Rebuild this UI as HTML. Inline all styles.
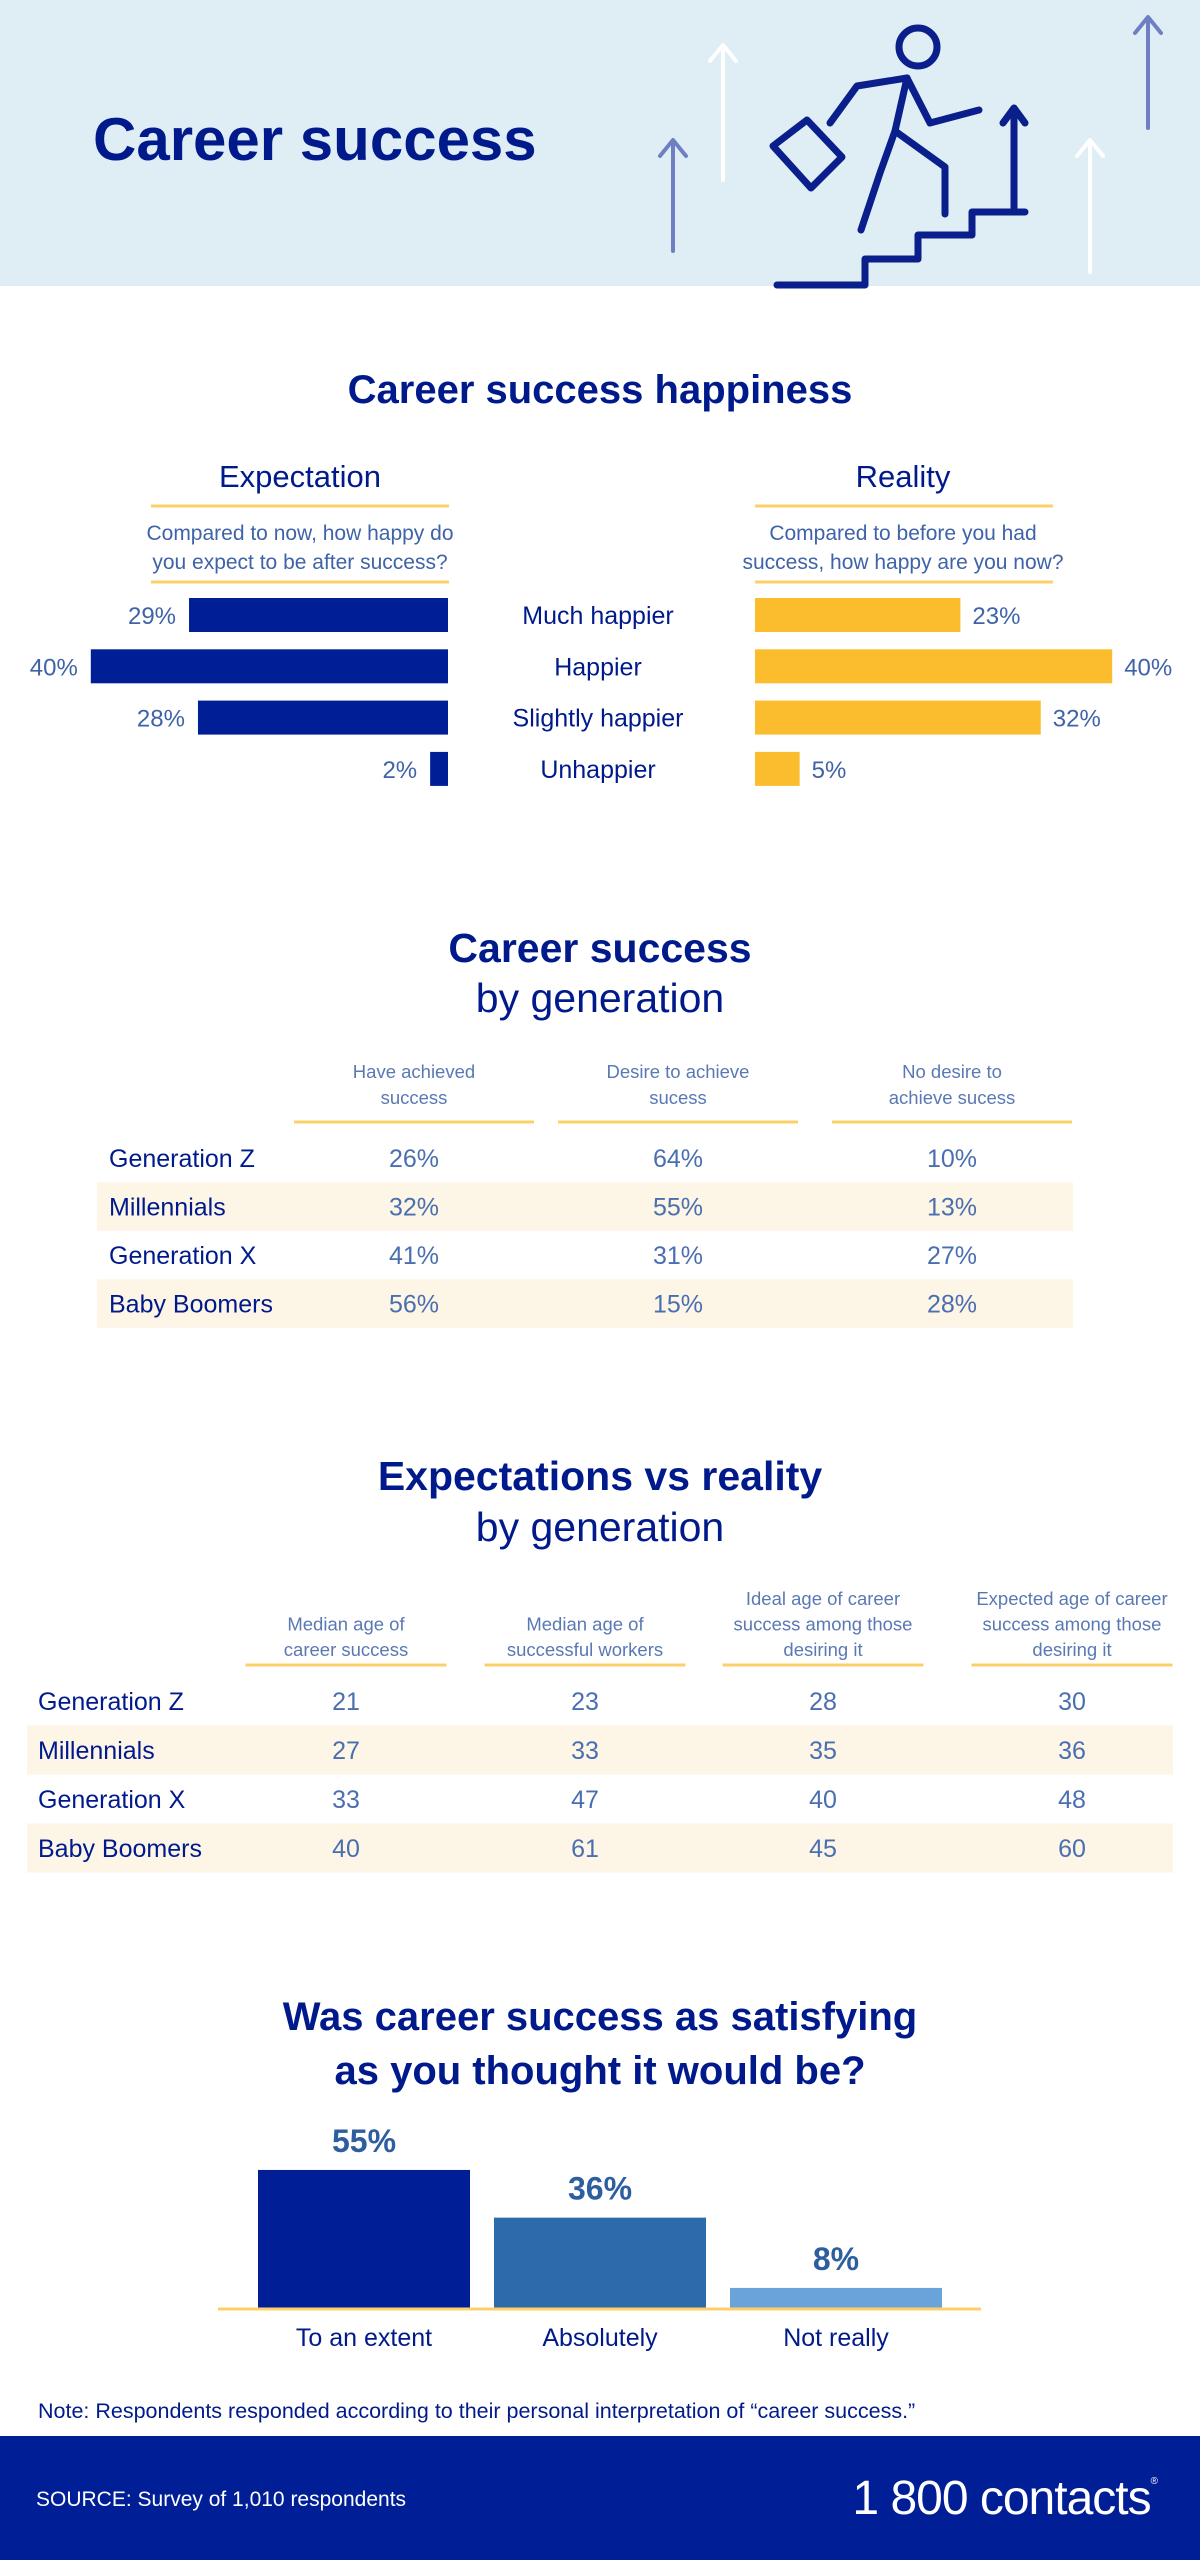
<!DOCTYPE html>
<html>
<head>
<meta charset="utf-8">
<style>
html,body{margin:0;padding:0;background:#fff;}
body{width:1200px;height:2560px;overflow:hidden;font-family:"Liberation Sans",sans-serif;}
svg text{font-family:"Liberation Sans",sans-serif;}
</style>
</head>
<body>
<svg id="page" width="1200" height="2560" viewBox="0 0 1200 2560" xmlns="http://www.w3.org/2000/svg">
  <!-- header -->
  <rect x="0" y="0" width="1200" height="286" fill="#dfeef5"/>
  <text x="93" y="160" font-size="60" font-weight="bold" fill="#001a8c">Career success</text>
  <g fill="none" stroke-linecap="round" stroke-linejoin="round">
    <line x1="673" y1="251" x2="673" y2="141" stroke="#6f7fc4" stroke-width="4"/>
    <polyline points="660,156 673,140 686,156" stroke="#6f7fc4" stroke-width="4"/>
    <line x1="1148" y1="128" x2="1148" y2="18" stroke="#6f7fc4" stroke-width="4"/>
    <polyline points="1135,33 1148,17 1161,33" stroke="#6f7fc4" stroke-width="4"/>
    <line x1="723" y1="180" x2="723" y2="46" stroke="#ffffff" stroke-width="4"/>
    <polyline points="710,61 723,45 736,61" stroke="#ffffff" stroke-width="4"/>
    <line x1="1090" y1="272" x2="1090" y2="141" stroke="#ffffff" stroke-width="4"/>
    <polyline points="1077,156 1090,140 1103,156" stroke="#ffffff" stroke-width="4"/>
    <g stroke="#0a1e8c" stroke-width="7">
      <polyline points="777,285 865,285 865,259 918,259 918,235 972,235 972,212 1025,212"/>
      <line x1="1014" y1="208" x2="1014" y2="110"/>
      <polyline points="1003,123 1014,108 1025,123"/>
      <circle cx="918" cy="47" r="19"/>
      <polyline points="907,78 857,86 830,123"/>
      <polyline points="907,78 930,123 979,110"/>
      <line x1="907" y1="78" x2="895" y2="131"/>
      <polyline points="895,131 945,167 945,214"/>
      <polyline points="895,131 880,173 861,230"/>
      <polygon points="773,146 807,120 842,157 811,188"/>
    </g>
  </g>

  <!-- section 1 -->
  <text x="600" y="403" text-anchor="middle" font-size="40" font-weight="bold" fill="#001a8c">Career success happiness</text>
  <text x="300" y="487" text-anchor="middle" font-size="31" fill="#001a8c">Expectation</text>
  <text x="903" y="487" text-anchor="middle" font-size="31" fill="#001a8c">Reality</text>
  <g stroke="#fcd069" stroke-width="3">
    <line x1="151" y1="506" x2="449" y2="506"/><line x1="151" y1="582" x2="449" y2="582"/>
    <line x1="755" y1="506" x2="1053" y2="506"/><line x1="755" y1="582" x2="1053" y2="582"/>
  </g>
  <text text-anchor="middle" font-size="21" fill="#3f63a8">
    <tspan x="300" y="540">Compared to now, how happy do</tspan><tspan x="300" y="569">you expect to be after success?</tspan></text>
  <text text-anchor="middle" font-size="21" fill="#3f63a8">
    <tspan x="903" y="540">Compared to before you had</tspan><tspan x="903" y="569">success, how happy are you now?</tspan></text>
  <g id="butterfly"></g>

  <!-- section 2 -->
  <text x="600" y="962" text-anchor="middle" font-size="41" font-weight="bold" fill="#001a8c">Career success</text>
  <text x="600" y="1012" text-anchor="middle" font-size="41" fill="#001a8c">by generation</text>
  <g id="table1"></g>

  <!-- section 3 -->
  <text x="600" y="1490" text-anchor="middle" font-size="41" font-weight="bold" fill="#001a8c">Expectations vs reality</text>
  <text x="600" y="1541" text-anchor="middle" font-size="41" fill="#001a8c">by generation</text>
  <g id="table2"></g>

  <!-- section 4 -->
  <text x="600" y="2030" text-anchor="middle" font-size="40" font-weight="bold" fill="#001a8c">Was career success as satisfying</text>
  <text x="600" y="2084" text-anchor="middle" font-size="40" font-weight="bold" fill="#001a8c">as you thought it would be?</text>
  <g id="colchart"></g>
  <text x="38" y="2418" font-size="21.5" fill="#001a8c">Note: Respondents responded according to their personal interpretation of “career success.”</text>

  <!-- footer -->
  <rect x="0" y="2436" width="1200" height="124" fill="#001e96"/>
  <text x="36" y="2506" font-size="21" fill="#ffffff">SOURCE: Survey of 1,010 respondents</text>
  <text x="1157" y="2514" text-anchor="end" font-size="48" fill="#ffffff" letter-spacing="-1">1 800 contacts<tspan font-size="10" dy="-30">®</tspan></text>
</svg>
<script>
const NS='http://www.w3.org/2000/svg';
// ---- data ----
const happyCats=['Much happier','Happier','Slightly happier','Unhappier'];
const expectVals=[29,40,28,2];
const realityVals=[23,40,32,5];
const t1Cols=[['Have achieved','success'],['Desire to achieve','sucess'],['No desire to','achieve sucess']];
const t1Rows=['Generation Z','Millennials','Generation X','Baby Boomers'];
const t1Have=[26,32,41,56];
const t1Desire=[64,55,31,15];
const t1NoDesire=[10,13,27,28];
const t2Cols=[['Median age of','career success'],['Median age of','successful workers'],['Ideal age of career','success among those','desiring it'],['Expected age of career','success among those','desiring it']];
const t2Rows=['Generation Z','Millennials','Generation X','Baby Boomers'];
const t2Median=[21,27,33,40];
const t2Workers=[23,33,47,61];
const t2Ideal=[28,35,40,45];
const t2Expected=[30,36,48,60];
const satCats=['To an extent','Absolutely','Not really'];
const satVals=[55,36,8];

function mk(tag,attrs,parent,txt){const e=document.createElementNS(NS,tag);for(const k in attrs)e.setAttribute(k,attrs[k]);if(txt!==undefined)e.textContent=txt;parent.appendChild(e);return e;}

// ---- butterfly chart ----
const bf=document.getElementById('butterfly');
const hx=v=>v*8.93;
const hy=i=>598+i*51.3;
happyCats.forEach((c,i)=>{
  const y=hy(i);
  const lw=hx(expectVals[i]);
  const b1=mk('rect',{x:448-lw,y:y,width:lw,height:34,fill:'#001e96'},bf);
  
  
  const l1=mk('text',{x:448-lw-13,y:y+26,'text-anchor':'end','font-size':24,fill:'#3f63a8'},bf,expectVals[i]+'%');
  
  
  const rw=hx(realityVals[i]);
  const b2=mk('rect',{x:755,y:y,width:rw,height:34,fill:'#fbbd2e'},bf);
  
  
  const l2=mk('text',{x:755+rw+12,y:y+26,'font-size':24,fill:'#3f63a8'},bf,realityVals[i]+'%');
  
  
  const cl=mk('text',{x:598,y:y+26,'text-anchor':'middle','font-size':25,fill:'#001a8c'},bf,c);
  
  
});

// ---- table builder ----
function buildTable(g,cols,rows,series,o){
  cols.forEach((lines,j)=>{
    const cx=o.colX[j];
    lines.forEach((ln,k)=>{
      const t=mk('text',{x:cx,y:o.headBottom-(lines.length-1-k)*o.headLH,'text-anchor':'middle','font-size':o.headFS,fill:'#5a78b4'},g,ln);
      
      
    });
    const r=mk('line',{x1:cx-o.ruleW/2,x2:cx+o.ruleW/2,y1:o.ruleY,y2:o.ruleY,stroke:'#fcd069','stroke-width':3},g);
    
    
  });
  rows.forEach((rn,i)=>{
    const cy=o.row0+i*o.rowH;
    if(i%2===1){
      const band=mk('rect',{x:o.bandX,y:cy-o.rowH/2,width:o.bandW,height:o.rowH,fill:'#fdf5e6'},g);
      
      
    }
    const lt=mk('text',{x:o.labelX,y:cy+9,'font-size':25,fill:'#001a8c'},g,rn);
    
    
    series.forEach((s,j)=>{
      const v=mk('text',{x:o.colX[j],y:cy+9,'text-anchor':'middle','font-size':25,fill:'#4a6fb0'},g,s[i]+o.suffix);
      
      
    });
  });
}
buildTable(document.getElementById('table1'),t1Cols,t1Rows,[t1Have,t1Desire,t1NoDesire],
  {colX:[414,678,952],ruleW:240,ruleY:1122,headBottom:1104,headLH:26,headFS:18.5,row0:1158,rowH:48.5,bandX:97,bandW:976,labelX:109,suffix:'%'});
buildTable(document.getElementById('table2'),t2Cols,t2Rows,[t2Median,t2Workers,t2Ideal,t2Expected],
  {colX:[346,585,823,1072],ruleW:201,ruleY:1665,headBottom:1656,headLH:25.5,headFS:18.5,row0:1701,rowH:49,bandX:27,bandW:1146,labelX:38,suffix:''});

// ---- column chart ----
const cc=document.getElementById('colchart');
const base=2308;
const sy=v=>v*2.51;
const satColors=['#001e96','#2c6aab','#6aa3d9'];
satCats.forEach((c,i)=>{
  const x=258+i*236;
  const h=sy(satVals[i]);
  const b=mk('rect',{x:x,y:base-h,width:212,height:h,fill:satColors[i]},cc);
  
  
  const v=mk('text',{x:x+106,y:base-h-18,'text-anchor':'middle','font-size':32,'font-weight':'bold',fill:'#2c5ea0'},cc,satVals[i]+'%');
  
  
  const l=mk('text',{x:x+106,y:2346,'text-anchor':'middle','font-size':25,fill:'#001a8c'},cc,c);
  
  
});
const ax=mk('line',{x1:218,x2:981,y1:base+1,y2:base+1,stroke:'#fcd069','stroke-width':3},cc);


</script>
</body>
</html>
